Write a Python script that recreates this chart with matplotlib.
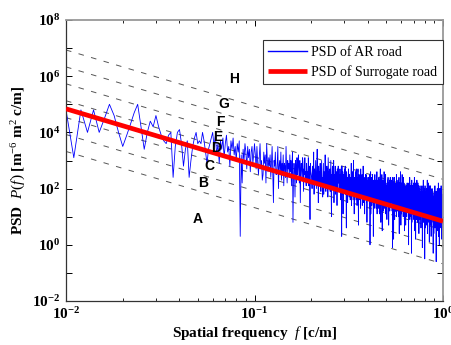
import numpy as np
import matplotlib
matplotlib.use("Agg")
import matplotlib.pyplot as plt
from matplotlib.ticker import FixedLocator, FuncFormatter, NullFormatter, NullLocator

plt.rcParams['font.family'] = 'Liberation Serif'
plt.rcParams['mathtext.fontset'] = 'custom'
plt.rcParams['mathtext.rm'] = 'Liberation Serif'
plt.rcParams['mathtext.it'] = 'Liberation Serif:italic'
plt.rcParams['mathtext.bf'] = 'Liberation Serif:bold'
plt.rcParams['lines.scale_dashes'] = False

# AR road PSD, frequency bins 0.001 c/m apart starting at 0.010 c/m
# values are log10(PSD)
psd_low = [
    4.8, 3.1, 4.8, 4.0, 4.8, 4.0, 4.5, 5.0, 4.6, 4.0,
    3.5, 3.9, 4.3, 4.7, 5.0, 4.2, 3.4, 4.0, 4.4, 4.2,
    4.6, 4.2, 3.9, 3.7, 3.6, 3.9, 4.0, 2.4, 3.5, 4.0,
    4.1, 3.6, 2.8, 3.4, 3.7, 2.4, 3.0, 3.5, 3.8, 4.0,
    3.6, 3.7, 3.6, 4.0, 3.7, 3.3, 2.9, 3.4, 3.6, 3.8,
    4.0, 3.5, 3.9, 3.2, 3.6, 2.9, 3.7, 3.4, 3.8, 3.1,
    3.6, 3.9, 3.3, 3.5, 2.8, 3.7, 3.4, 3.8, 3.2, 3.5,
    3.0, 3.6, 3.3, 3.7, 0.3, 3.2, 2.2, 3.4, 3.0, 3.6,
    3.3, 2.7, 3.5, 3.1, 3.4, 2.6, 3.3, 3.5, 2.9, 3.2,
    3.6,
]  # 0.010 .. 0.100

psd_mid = [
    3.2, 2.7, 3.5, 2.9, 2.5, 3.1, 3.6, 2.8, 3.0, 2.3,
    2.5, 3.3, 2.9, 3.2, 2.2, 3.6, 3.0, 2.6, 3.1, 2.8,
    3.2, 2.4, 2.9, 3.5, 2.6, 1.5, 3.0, 2.8, 3.3, 2.5,
    2.5, 2.9, 3.5, 2.0, 2.8, 3.0, 2.6, 3.3, 2.3, 2.9,
    2.6, 3.2, 2.1, 2.9, 2.8, 2.4, 3.5, 2.7, 2.2, 3.0,
    2.7, 2.9, 2.4, 3.2, 2.6, 3.0, 2.1, 2.8, 3.3, 0.8,
    2.4, 2.9, 2.6, 1.7, 3.0, 2.7, 2.2, 3.1, 2.5, 2.8,
    3.2, 2.5, 2.2, 3.0, 1.5, 2.7, 2.9, 2.6, 2.3, 3.1,
    2.8, 1.9, 2.7, 2.5, 3.1, 2.3, 2.6, 2.1, 2.9, 2.4,
    2.6, 2.3, 3.1, 2.1, 2.8, 2.4, 0.9, 2.9, 2.6, 2.5,
    2.4, 2.0, 2.8, 2.6, 2.3, 3.3, 1.8, 2.7, 2.5, 2.2,
    3.0, 2.5, 2.0, 2.6, 3.4, 2.2, 2.7, 1.5, 2.8, 2.5,
    2.6, 2.1, 2.9, 2.3, 1.9, 2.5, 3.0, 2.2, 2.4, 1.7,
    2.3, 2.9, 1.8, 2.6, 2.5, 2.1, 3.2, 2.4, 1.9, 2.7,
    2.0, 2.8, 2.4, 2.7, 1.7, 3.1, 2.5, 2.1, 2.6, 2.3,
    2.7, 1.9, 2.4, 3.0, 2.1, 1.0, 2.5, 2.3, 2.8, 2.0,
    2.0, 2.4, 3.0, 1.5, 2.3, 2.5, 2.1, 2.8, 1.8, 2.4,
    2.1, 2.6, 2.3, 1.4, 2.7, 2.4, 1.9, 2.8, 2.2, 2.5,
    2.2, 2.4, 1.9, 2.7, 2.1, 2.5, 1.6, 2.3, 2.8, 0.3,
    2.8, 2.1, 1.8, 2.6, 1.1, 2.3, 2.5, 2.2, 1.9, 2.7,
    2.3, 2.0, 2.8, 1.8, 2.5, 2.1, 0.6, 2.6, 2.3, 2.2,
    2.4, 1.5, 2.3, 2.1, 2.7, 1.9, 2.2, 1.7, 2.5, 2.0,
    2.0, 1.6, 2.4, 2.2, 1.9, 2.9, 1.4, 2.3, 2.1, 1.8,
    2.6, 2.1, 1.6, 2.2, 3.0, 1.8, 2.3, 1.1, 2.4, 2.1,
    2.3, 1.8, 2.6, 2.0, 1.6, 2.2, 2.7, 1.9, 2.1, 1.4,
    2.4, 1.6, 2.1, 2.7, 1.8, 0.7, 2.2, 2.0, 2.5, 1.7,
    1.6, 2.4, 2.0, 2.3, 1.3, 2.7, 2.1, 1.7, 2.2, 1.9,
    1.9, 2.5, 1.4, 2.2, 2.1, 1.7, 2.8, 2.0, 1.5, 2.3,
    1.8, 2.3, 2.0, 1.1, 2.4, 2.1, 1.6, 2.5, 1.9, 2.2,
    2.5, 1.8, 1.5, 2.3, 0.8, 2.0, 2.2, 1.9, 1.6, 2.4,
]  # 0.101 .. 0.400

psd_high = [
    1.9, 2.1, 1.6, 2.4, 1.8, 2.2, 1.3, 2.0, 2.5, 0.0,
    1.6, 2.0, 2.6, 1.1, 1.9, 2.1, 1.7, 2.4, 1.4, 2.0,
    2.0, 1.7, 2.5, 1.5, 2.2, 1.8, 0.3, 2.3, 2.0, 1.9,
    2.2, 1.3, 2.1, 1.9, 2.5, 1.7, 2.0, 1.5, 2.3, 1.8,
    1.7, 1.3, 2.1, 1.9, 1.6, 2.6, 1.1, 2.0, 1.8, 1.5,
    2.0, 1.5, 2.3, 1.7, 1.3, 1.9, 2.4, 1.6, 1.8, 1.1,
    2.3, 1.8, 1.3, 1.9, 2.7, 1.5, 2.0, 0.8, 2.1, 1.8,
    2.2, 1.4, 1.9, 2.5, 1.6, 0.5, 2.0, 1.8, 2.3, 1.5,
    1.7, 2.3, 1.2, 2.0, 1.9, 1.5, 2.6, 1.8, 1.3, 2.1,
    1.4, 2.2, 1.8, 2.1, 1.1, 2.5, 1.9, 1.5, 2.0, 1.7,
    1.6, 2.1, 1.8, 0.9, 2.2, 1.9, 1.4, 2.3, 1.7, 2.0,
    2.4, 1.7, 1.4, 2.2, 0.7, 1.9, 2.1, 1.8, 1.5, 2.3,
    2.1, 1.2, 2.0, 1.8, 2.4, 1.6, 1.9, 1.4, 2.2, 1.7,
    1.8, 2.0, 1.5, 2.3, 1.7, 2.1, 1.2, 1.9, 2.4, -0.1,
    1.9, 1.6, 2.4, 1.4, 2.1, 1.7, 0.2, 2.2, 1.9, 1.8,
    1.4, 1.8, 2.4, 0.9, 1.7, 1.9, 1.5, 2.2, 1.2, 1.8,
    1.6, 1.2, 2.0, 1.8, 1.5, 2.5, 1.0, 1.9, 1.7, 1.4,
    1.9, 1.4, 2.2, 1.6, 1.2, 1.8, 2.3, 1.5, 1.7, 1.0,
    2.1, 1.3, 1.8, 2.4, 1.5, 0.4, 1.9, 1.7, 2.2, 1.4,
    2.2, 1.7, 1.2, 1.8, 2.6, 1.4, 1.9, 0.7, 2.0, 1.7,
    1.6, 2.2, 1.1, 1.9, 1.8, 1.4, 2.5, 1.7, 1.2, 2.0,
    1.3, 2.1, 1.7, 2.0, 1.0, 2.4, 1.8, 1.4, 1.9, 1.6,
    2.2, 1.5, 1.2, 2.0, 0.5, 1.7, 1.9, 1.6, 1.3, 2.1,
    1.4, 1.9, 1.6, 0.7, 2.0, 1.7, 1.2, 2.1, 1.5, 1.8,
    1.9, 1.0, 1.8, 1.6, 2.2, 1.4, 1.7, 1.2, 2.0, 1.5,
    1.7, 1.4, 2.2, 1.2, 1.9, 1.5, 0.0, 2.0, 1.7, 1.6,
    1.5, 1.1, 1.9, 1.7, 1.4, 2.4, 0.9, 1.8, 1.6, 1.3,
    1.6, 1.8, 1.3, 2.1, 1.5, 1.9, 1.0, 1.7, 2.2, -0.3,
    1.3, 1.7, 2.3, 0.8, 1.6, 1.8, 1.4, 2.1, 1.1, 1.7,
    1.8, 1.3, 2.1, 1.5, 1.1, 1.7, 2.2, 1.4, 1.6, 0.9,
    2.0, 1.5, 1.0, 1.6, 2.4, 1.2, 1.7, 0.5, 1.8, 1.5,
    1.9, 1.1, 1.6, 2.2, 1.3, 0.2, 1.7, 1.5, 2.0, 1.2,
    1.4, 2.0, 0.9, 1.7, 1.6, 1.2, 2.3, 1.5, 1.0, 1.8,
    1.1, 1.9, 1.5, 1.8, 0.8, 2.2, 1.6, 1.2, 1.7, 1.4,
    2.1, 1.4, 1.1, 1.9, 0.4, 1.6, 1.8, 1.5, 1.2, 2.0,
    1.8, 0.9, 1.7, 1.5, 2.1, 1.3, 1.6, 1.1, 1.9, 1.4,
    1.3, 1.8, 1.5, 0.6, 1.9, 1.6, 1.1, 2.0, 1.4, 1.7,
    1.6, 1.3, 2.1, 1.1, 1.8, 1.4, -0.1, 1.9, 1.6, 1.5,
    1.4, 1.0, 1.8, 1.6, 1.3, 2.3, 0.8, 1.7, 1.5, 1.2,
    1.4, 1.6, 1.1, 1.9, 1.3, 1.7, 0.8, 1.5, 2.0, -0.5,
    1.1, 1.5, 2.1, 0.6, 1.4, 1.6, 1.2, 1.9, 0.9, 1.5,
    1.6, 1.1, 1.9, 1.3, 0.9, 1.5, 2.0, 1.2, 1.4, 0.7,
    1.9, 1.4, 0.9, 1.5, 2.3, 1.1, 1.6, 0.4, 1.7, 1.4,
    1.3, 1.9, 0.8, 1.6, 1.5, 1.1, 2.2, 1.4, 0.9, 1.7,
    1.8, 1.0, 1.5, 2.1, 1.2, 0.1, 1.6, 1.4, 1.9, 1.1,
    1.0, 1.8, 1.4, 1.7, 0.7, 2.1, 1.5, 1.1, 1.6, 1.3,
    2.0, 1.3, 1.0, 1.8, 0.3, 1.5, 1.7, 1.4, 1.1, 1.9,
    1.7, 0.8, 1.6, 1.4, 2.0, 1.2, 1.5, 1.0, 1.8, 1.3,
    1.4, 1.1, 1.9, 0.9, 1.6, 1.2, -0.3, 1.7, 1.4, 1.3,
    1.1, 1.6, 1.3, 0.4, 1.7, 1.4, 0.9, 1.8, 1.2, 1.5,
    1.2, 0.8, 1.6, 1.4, 1.1, 2.1, 0.6, 1.5, 1.3, 1.0,
    1.3, 1.5, 1.0, 1.8, 1.2, 1.6, 0.7, 1.4, 1.9, -0.6,
    1.5, 1.0, 1.8, 1.2, 0.8, 1.4, 1.9, 1.1, 1.3, 0.6,
    1.0, 1.4, 2.0, 0.5, 1.3, 1.5, 1.1, 1.8, 0.8, 1.4,
    1.8, 1.3, 0.8, 1.4, 2.2, 1.0, 1.5, 0.3, 1.6, 1.3,
    1.7, 0.9, 1.4, 2.0, 1.1, 0.0, 1.5, 1.3, 1.8, 1.0,
    0.9, 1.7, 1.3, 1.6, 0.6, 2.0, 1.4, 1.0, 1.5, 1.2,
    1.2, 1.8, 0.7, 1.5, 1.4, 1.0, 2.1, 1.3, 0.8, 1.6,
    1.9, 1.2, 0.9, 1.7, 0.2, 1.4, 1.6, 1.3, 1.0, 1.8,
    1.5, 0.6, 1.4, 1.2, 1.8, 1.0, 1.3, 0.8, 1.6, 1.1,
]  # 0.401 .. 1.000

log_psd = np.array(psd_low + psd_mid + psd_high)
freq = np.round(0.010 + 0.001 * np.arange(len(log_psd)), 3)

# surrogate road PSD: straight line, ends read at f = 0.01 and f = 1
sur_f = [0.01, 1.0]
sur_psd = [6.9e4, 6.9]

# road class boundaries at n0 = 0.1 c/m, as drawn, waviness w = 2
n0 = 0.1
w = 2
class_bounds = [21, 84, 335, 1340, 5360, 21400, 85700]
class_names = ['A', 'B', 'C', 'D', 'E', 'F', 'G', 'H']
name_f = [0.0501, 0.0533, 0.0574, 0.0625, 0.0640, 0.0656, 0.0689, 0.0778]
name_psd = [8.3, 158, 630, 2.8e3, 6.9e3, 2.3e4, 1.0e5, 7.9e5]

fig = plt.figure(figsize=(4.51, 3.45), dpi=100)
ax = fig.add_axes([66 / 451, 1 - 301 / 345, 377 / 451, 281 / 345])

fl = np.array([0.01, 1.0])
for g in class_bounds:
    ax.plot(fl, g * (fl / n0) ** (-w), color='#555555', lw=0.7,
            dashes=(4, 5.4), zorder=1)

ax.plot(freq, 10 ** log_psd, color='#0000ff', lw=0.6, label='PSD of AR road', zorder=2)
ax.plot(sur_f, sur_psd, color='#ff0000', lw=3.4, label='PSD of Surrogate road',
        solid_capstyle='butt', zorder=3)

for name, xf, yp in zip(class_names, name_f, name_psd):
    ax.text(xf, yp, name, family='Liberation Sans', fontweight='bold', fontsize=10,
            ha='center', va='center', zorder=4)

ax.set_xscale('log')
ax.set_yscale('log')
ax.set_xlim(0.01, 1)
ax.set_ylim(1e-2, 1e8)

ax.xaxis.set_major_locator(FixedLocator([0.01, 0.1, 1]))
ax.xaxis.set_minor_locator(FixedLocator([k * 10.0 ** e for e in (-2, -1) for k in range(2, 10)]))
ax.xaxis.set_minor_formatter(NullFormatter())
ax.xaxis.set_major_formatter(FuncFormatter(
    lambda v, p: r'$\mathbf{10^{%d}}$' % round(np.log10(v))))

ax.yaxis.set_major_locator(FixedLocator([10.0 ** e for e in range(-2, 9)]))
ax.yaxis.set_minor_locator(NullLocator())


def ylab(v, p):
    e = int(round(np.log10(v)))
    return r'$\mathbf{10^{%d}}$' % e if e % 2 == 0 else ''


ax.yaxis.set_major_formatter(FuncFormatter(ylab))

ax.tick_params(which='both', direction='in', top=True, right=True, labelsize=11)
ax.tick_params(which='major', length=4, width=0.7)
ax.tick_params(which='minor', length=2.5, width=0.6)
ax.tick_params(axis='x', pad=4)
ax.tick_params(axis='y', pad=4)

for s in ['left', 'bottom']:
    ax.spines[s].set_color('#333333')
    ax.spines[s].set_linewidth(0.9)
for s in ['top', 'right']:
    ax.spines[s].set_color('#999999')
    ax.spines[s].set_linewidth(1.3)

ax.set_xlabel(r'Spatial frequency  $\mathit{f}$ [c/m]', fontsize=11, fontweight='bold', labelpad=1)
ax.set_ylabel(r'PSD  $\mathit{P}(\mathit{f})$ [m$^{-6}$ m$^{2}$ c/m]', fontsize=11,
              fontweight='bold', labelpad=3)

leg = ax.legend(loc='upper right', bbox_to_anchor=(1.0, 1 - 20 / 281), borderaxespad=0,
                fancybox=False, framealpha=1, edgecolor='#333333', fontsize=10,
                handlelength=2.8, borderpad=0.4, labelspacing=0.45, handletextpad=0.3)
leg.get_frame().set_linewidth(0.8)
leg.get_lines()[0].set_linewidth(1.0)

fig.savefig('out.png', dpi=100)
